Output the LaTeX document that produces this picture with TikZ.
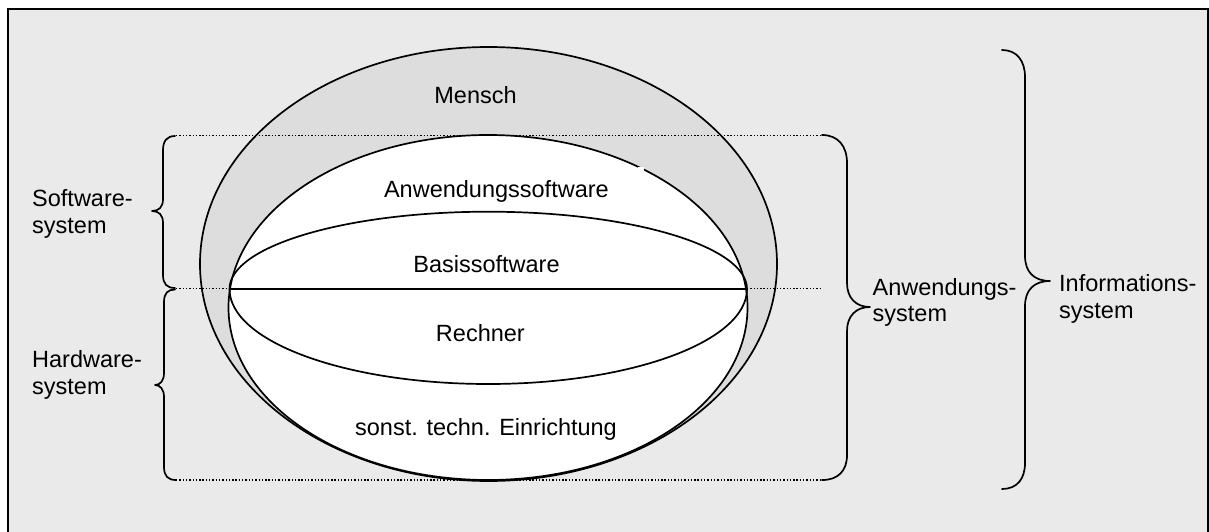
\documentclass[tikz,border=0pt]{standalone}
\usepackage{fontspec}
\setmainfont{Liberation Sans}
\definecolor{panelgray}{RGB}{234,234,234}
\definecolor{ringgray}{RGB}{221,221,221}
\tikzset{
  outline/.style={line width=1.7pt, black},
  bracket/.style={line width=1.7pt, black, line join=round, line cap=round},
  guide/.style={line width=1.3pt, black, dash pattern=on 1.4pt off 1.9pt},
  lbl/.style={inner sep=0pt, anchor=base west, align=left,
              font=\fontsize{23.5}{26.5}\selectfont},
  inlbl/.style={inner sep=0pt, anchor=base,
              font=\fontsize{23.5}{26.5}\selectfont}
}
\begin{document}
\begin{tikzpicture}[x=1pt,y=-1pt]
\useasboundingbox (0,0) rectangle (1209,532);
% page and panel
\fill[white] (0,0) rectangle (1209,532);
\fill[panelgray] (8,9.3) rectangle (1208,532);
\draw[line width=2pt] (7.7,540) -- (7.7,9.3) -- (1208,9.3) -- (1208,540);

% Mensch ring and application-system body
\filldraw[outline, fill=ringgray] (488.5,264) ellipse [x radius=288.5pt, y radius=217pt];
\filldraw[outline, fill=white] (488,307.5) ellipse [x radius=259.5pt, y radius=172.5pt];
\fill[white] (638,166.5) rectangle (643.5,170.8);

% software / hardware layers
\coordinate (bl) at (229.5,289);
\coordinate (br) at (747,289);
\draw[outline] (bl) arc[start angle=180, end angle=0, x radius=258.75pt, y radius=77.3pt];
\draw[outline] (bl) arc[start angle=180, end angle=360, x radius=258.75pt, y radius=95pt];
\draw[outline] (bl) -- (br);

% guide lines from the brackets
\coordinate (swtop) at (176,135.5);
\coordinate (swbot) at (176,288.5);
\coordinate (hwbot) at (176,480);
\coordinate (aptop) at (822,135.5);
\coordinate (apmid) at (822,288.5);
\coordinate (apbot) at (822,480);
\draw[guide] (swtop) -- (aptop);
\draw[guide] (swbot) -- (apmid);
\draw[guide] (hwbot) -- (apbot);

% left brackets
\draw[bracket] (175,136) .. controls (167,136) and (163,141) .. (163,150) -- (163,199)
  .. controls (163,207) and (159,211) .. (152,211)
  .. controls (159,211) and (163,215) .. (163,223) -- (163,275)
  .. controls (163,284) and (167,288) .. (175,288);
\draw[bracket] (175,289.5) .. controls (168,289.5) and (164,293) .. (164,302) -- (164,373)
  .. controls (164,381) and (160,385) .. (155,385)
  .. controls (160,385) and (164,389) .. (164,397) -- (164,467)
  .. controls (164,476) and (168,480) .. (176,480);

% right brackets
\draw[bracket] (822,135) .. controls (838,135) and (847,146) .. (847,163) -- (847,283)
  .. controls (847,298) and (856,307) .. (870,307)
  .. controls (856,307) and (847,316) .. (847,331) -- (847,455)
  .. controls (847,471) and (838,480) .. (822,480);
\draw[bracket] (1002,50) .. controls (1017,50) and (1025,61) .. (1025,77) -- (1025,256)
  .. controls (1025,272) and (1034,281) .. (1050,281)
  .. controls (1034,281) and (1025,290) .. (1025,306) -- (1025,463)
  .. controls (1025,479) and (1017,489) .. (1002,489);

% texts inside the ellipses
\node[inlbl] (mensch) at (475.5,103.3) {Mensch};
\node[inlbl] (anwsw) at (496.4,197.7) {Anwendungssoftware};
\node[inlbl] (basis) at (486.5,272.7) {Basissoftware};
\node[inlbl] (rechner) at (480.4,341.7) {Rechner};
\node[inlbl] (sonst) at (486,435) {sonst. techn. Einrichtung};

% bracket labels (base anchor sits on the second line)
\node[lbl] (swsys) at (32,233) {Software-\\system};
\node[lbl] (hwsys) at (32,394.2) {Hardware-\\system};
\node[lbl] (apsys) at (872.5,321.5) {Anwendungs-\\system};
\node[lbl] (infsys) at (1059,318.2) {Informations-\\system};
\end{tikzpicture}
\end{document}
